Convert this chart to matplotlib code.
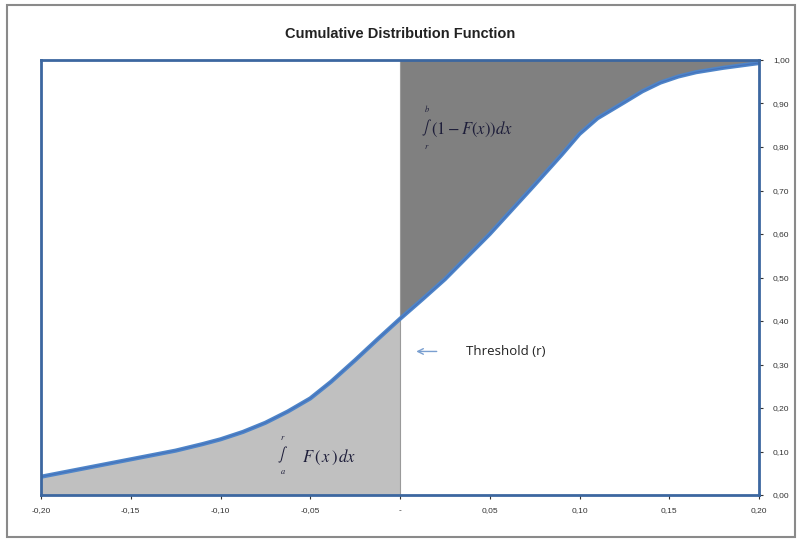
import matplotlib
matplotlib.use("Agg")
import matplotlib.pyplot as plt
import numpy as np
from matplotlib.patches import Rectangle

# Data
x_vals = [-0.20, -0.175, -0.15, -0.125, -0.11, -0.10, -0.0875, -0.075, -0.0625, -0.05,
          -0.0385, -0.025, -0.0125, 0.0, 0.0125, 0.025, 0.05, 0.075, 0.09, 0.10, 0.11,
          0.125, 0.135, 0.145, 0.155, 0.165, 0.18, 0.20]
cdf_vals = [0.042, 0.062, 0.082, 0.102, 0.117, 0.128, 0.145, 0.166, 0.192, 0.222,
            0.260, 0.310, 0.358, 0.405, 0.450, 0.496, 0.600, 0.713, 0.782, 0.830, 0.866,
            0.903, 0.928, 0.948, 0.962, 0.972, 0.982, 0.993]
x_ticks = [-0.20, -0.15, -0.10, -0.05, 0.0, 0.05, 0.10, 0.15, 0.20]
x_tick_labels = ["-0,20", "-0,15", "-0,10", "-0,05", "-", "0,05", "0,10", "0,15", "0,20"]
y_ticks = [0.0, 0.1, 0.2, 0.3, 0.4, 0.5, 0.6, 0.7, 0.8, 0.9, 1.0]
y_tick_labels = ["0,00", "0,10", "0,20", "0,30", "0,40", "0,50", "0,60", "0,70", "0,80", "0,90", "1,00"]
threshold = 0.0

plt.rcParams['font.family'] = ['Liberation Sans', 'DejaVu Sans']
plt.rcParams['mathtext.fontset'] = 'stix'

fig = plt.figure(figsize=(8.02, 5.42), dpi=100)
fig.patches.append(Rectangle((7/802, 5/542), 788/802, 532/542, transform=fig.transFigure,
                             fill=False, edgecolor='#8a8a8a', linewidth=1.5))
ax = fig.add_axes([41/802, 47/542, 718/802, 435/542])

x = np.array(x_vals)
y = np.array(cdf_vals)
left = x <= threshold
right = x >= threshold
ax.fill_between(x[left], 0, y[left], color='#c0c0c0', linewidth=0)
ax.fill_between(x[right], y[right], 1, color='#808080', linewidth=0)
ax.axvline(threshold, color='#9a9a9a', linewidth=0.8)
ax.plot(x, y, color='#4f85c8', linewidth=3, solid_capstyle='round', solid_joinstyle='round')
ax.plot(x, y, color='#3a5fb0', linewidth=0.8, alpha=0.5)

ax.set_xlim(-0.20, 0.20)
ax.set_ylim(0, 1.0)
ax.set_xticks(x_ticks)
ax.set_xticklabels(x_tick_labels)
ax.yaxis.tick_right()
ax.set_yticks(y_ticks)
ax.set_yticklabels(y_tick_labels)
ax.tick_params(axis='both', labelsize=6, colors='#333333', length=3, width=0.8, direction='out')
ax.tick_params(axis='x', pad=6)
ax.tick_params(axis='y', pad=7)
for s in ax.spines.values():
    s.set_color('#3c67a0')
    s.set_linewidth(2)

ax.set_title('Cumulative Distribution Function', fontsize=10.5, fontweight='bold',
             color='#222222', pad=16)

txt_color = '#1e1e3a'
# upper integral: int_r^b (1 - F(x)) dx
ax.text(0.0148, 0.844, r'$\int$', fontsize=10, color=txt_color, va='center', ha='center')
ax.text(0.0148, 0.888, r'$b$', fontsize=6, color=txt_color, va='center', ha='center')
ax.text(0.0148, 0.800, r'$r$', fontsize=6, color=txt_color, va='center', ha='center')
ax.text(0.0175, 0.840, r'$(1 - F(x))dx$', fontsize=12, color=txt_color, va='center', ha='left')
# lower integral: int_a^r F(x) dx
ax.text(-0.0653, 0.092, r'$\int$', fontsize=10, color=txt_color, va='center', ha='center')
ax.text(-0.0653, 0.131, r'$r$', fontsize=6, color=txt_color, va='center', ha='center')
ax.text(-0.0653, 0.053, r'$a$', fontsize=6, color=txt_color, va='center', ha='center')
ax.text(-0.0545, 0.086, r'$F\,(\,x\,)\,dx$', fontsize=12, color=txt_color, va='center', ha='left')

ax.annotate('', xy=(0.0075, 0.33), xytext=(0.022, 0.33),
            arrowprops=dict(arrowstyle='->', color='#7a9fd0', lw=1.0))
ax.text(0.037, 0.33, 'Threshold (r)', fontsize=9.5, color='#222222', va='center', ha='left',
        family=['Open Sans', 'DejaVu Sans'])

fig.savefig('out.png', dpi=100)
